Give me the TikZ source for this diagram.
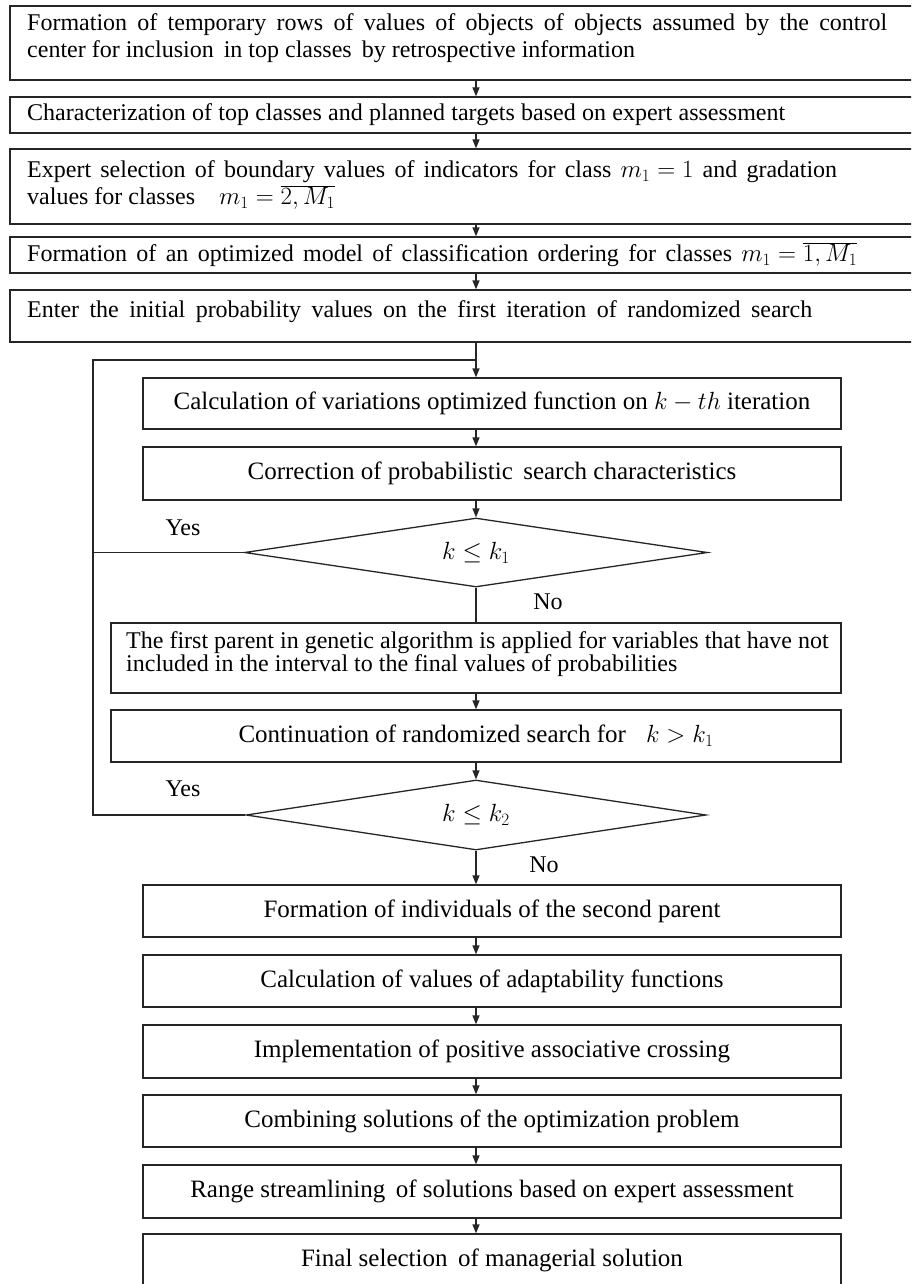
\documentclass[tikz,border=0pt]{standalone}
\usepackage{fontspec}
\setmainfont{Liberation Serif}
\usetikzlibrary{arrows.meta,shapes.geometric}
\begin{document}
\begin{tikzpicture}[x=1pt,y=-1pt,
  box/.style={draw=black!85, line width=1.3pt, rectangle, inner sep=0pt},
  inbox/.style={box, minimum width=698pt, font=\fontsize{25}{28}\selectfont},
  dia/.style={draw=black!85, line width=1.3pt, diamond, inner sep=0pt, aspect=6.7, font=\fontsize{24}{28}\selectfont},
  toptxt/.style={inner sep=0pt, anchor=west, align=left, font=\fontsize{24}{27}\selectfont},
  lab/.style={inner sep=0pt, font=\fontsize{24}{28}\selectfont},
  ln/.style={draw=black!85, line width=1.3pt},
  arr/.style={ln, -{Triangle[length=9pt,width=7pt]}}]
\useasboundingbox[fill=white] (0,0) rectangle (911,1284);
\clip (0,0) rectangle (911,1284);
\coordinate (ax) at (476,0);
% top boxes
\node[box, minimum width=920pt, minimum height=74pt] (b1) at (470,43) {};
\node[box, minimum width=920pt, minimum height=36pt] (b2) at (470,115) {};
\node[box, minimum width=920pt, minimum height=75pt] (b3) at (470,186.5) {};
\node[box, minimum width=920pt, minimum height=36pt] (b4) at (470,255) {};
\node[box, minimum width=920pt, minimum height=52pt] (b5) at (470,316) {};
\node[toptxt] (t1) at (27,38.5) {\makebox[860pt][s]{Formation of temporary rows of values of objects of objects assumed by the control}\\center for inclusion\, in top classes\, by retrospective information};
\node[toptxt] (t2) at (27,115) {\makebox[758pt][s]{Characterization of top classes and planned targets based on expert assessment}};
\node[toptxt] (t3) at (27,185) {\makebox[810pt][s]{Expert selection of boundary values of indicators for class \mbox{$m_1=1$} and gradation}\\values for classes\quad\mbox{$m_1=\overline{2,M_1}$}};
\node[toptxt] (t4) at (27,255) {\makebox[830pt][s]{Formation of an optimized model of classification ordering for classes \mbox{$m_1=\overline{1,M_1}$}}};
\node[toptxt] (t5) at (27,312) {\makebox[785pt][s]{Enter the initial probability values on the first iteration of randomized search}};
% loop part
\node[inbox, minimum height=51pt] (calc) at (492,403.5) {Calculation of variations optimized function on $k-th$ iteration};
\node[inbox, minimum height=53pt] (corr) at (492,473.5) {Correction of probabilistic\, search characteristics};
\node[dia, minimum width=463pt, minimum height=69pt] (d1) at (476,552.5) {$k\le k_1$};
\node[box, minimum width=730pt, minimum height=70pt] (fp) at (476,658) {};
\node[inner sep=0pt, anchor=west, align=left, font=\fontsize{24}{19}\selectfont] (fpt) at (126,654.5) {The first parent in genetic algorithm is applied for variables that have not\\included in the interval to the final values of probabilities};
\node[box, minimum width=730pt, minimum height=52pt, font=\fontsize{25}{28}\selectfont] (cont) at (476,736) {Continuation of randomized search for\;\; $k>k_1$};
\node[dia, minimum width=460pt, minimum height=70pt] (d2) at (476,815) {$k\le k_2$};
\node[lab] (yes1) at (183,528) {Yes};
\node[lab] (no1) at (548,602) {No};
\node[lab] (yes2) at (183,789) {Yes};
\node[lab] (no2) at (544,865) {No};
% bottom boxes
\node[inbox, minimum height=52pt] (form) at (492,911) {Formation of individuals of the second parent};
\node[inbox, minimum height=52pt] (calcv) at (492,981) {Calculation of values of adaptability functions};
\node[inbox, minimum height=53pt] (impl) at (492,1051.5) {Implementation of positive associative crossing};
\node[inbox, minimum height=52pt] (comb) at (492,1121) {Combining solutions of the optimization problem};
\node[inbox, minimum height=53pt] (rng) at (492,1191.5) {Range streamlining\, of solutions based on expert assessment};
\node[inbox, minimum height=52pt] (fin) at (492,1260) {Final selection\, of managerial solution};
% connectors
\draw[arr] (b1.south -| ax) -- (b2.north -| ax);
\draw[arr] (b2.south -| ax) -- (b3.north -| ax);
\draw[arr] (b3.south -| ax) -- (b4.north -| ax);
\draw[arr] (b4.south -| ax) -- (b5.north -| ax);
\draw[arr] (b5.south -| ax) -- (calc.north -| ax);
\draw[arr] (calc.south -| ax) -- (corr.north -| ax);
\draw[arr] (corr.south -| ax) -- (d1.north);
\draw[ln] (d1.south) -- (fp.north -| d1.south);
\draw[arr] (fp.south -| ax) -- (cont.north -| ax);
\draw[arr] (cont.south -| ax) -- (d2.north);
\draw[arr] (d2.south) -- (form.north -| d2.south);
\draw[arr] (form.south -| ax) -- (calcv.north -| ax);
\draw[arr] (calcv.south -| ax) -- (impl.north -| ax);
\draw[arr] (impl.south -| ax) -- (comb.north -| ax);
\draw[arr] (comb.south -| ax) -- (rng.north -| ax);
\draw[arr] (rng.south -| ax) -- (fin.north -| ax);
\coordinate (L) at (93,360);
\coordinate (J) at (476,360);
\draw[ln] (d2.west) -| (L) -- (J);
\draw[ln] (d1.west) -- (d1.west -| L);
\end{tikzpicture}
\end{document}
